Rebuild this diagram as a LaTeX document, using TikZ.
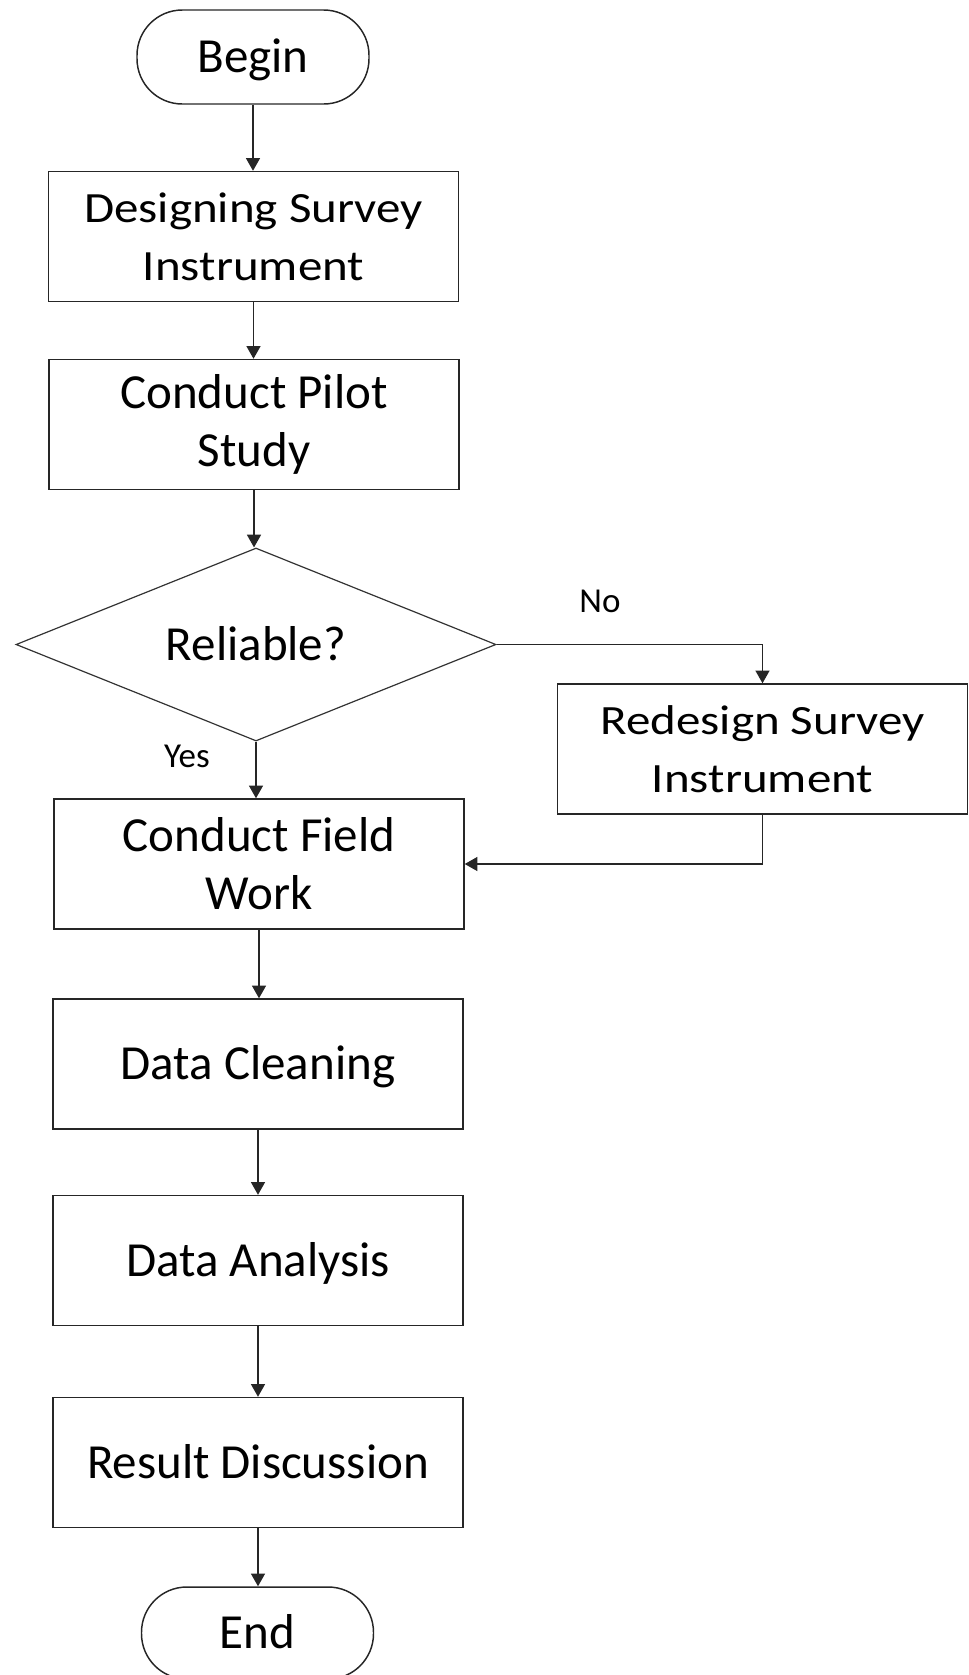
\documentclass[tikz,border=0pt]{standalone}
\usepackage{fontspec}
\setmainfont{Carlito}
\usetikzlibrary{shapes.geometric,arrows.meta}
\begin{document}
\begin{tikzpicture}[x=0.75pt,y=-0.75pt,
  every node/.style={font=\fontsize{36.75pt}{43.5pt}\selectfont,text=black},
  one/.style={text height=33pt,text depth=9.4pt},
  box/.style={draw=black!85,line width=1.1pt,inner sep=0pt,align=center,minimum width=307.5pt,minimum height=97.5pt},
  term/.style={draw=black!85,line width=1.1pt,inner sep=0pt,rounded corners=34pt,minimum width=174pt,minimum height=70.5pt,one},
  decision/.style={draw=black!80,line width=0.9pt,diamond,shape aspect=2.49,inner sep=0pt,minimum width=360pt,minimum height=144.75pt,one},
  lbl/.style={font=\fontsize{26.25pt}{30pt}\selectfont,inner sep=0pt},
  conn/.style={draw=black!85,line width=1pt,-{Triangle[length=9.5pt,width=10.5pt]}}]
\useasboundingbox (0,0) rectangle (969,1675);
\node[term] (begin) at (253,57) {Begin};
\node[box] (des) at (253.5,236.5) {\scalebox{1}[0.88]{Designing Survey}\\\scalebox{1}[0.88]{Instrument}};
\node[box] (pilot) at (254,424.5) {Conduct Pilot\\Study};
\node[decision] (rel) at (256,644.5) {Reliable?};
\node[box] (red) at (762.5,749) {\scalebox{1}[0.85]{Redesign Survey}\\\scalebox{1}[0.85]{Instrument}};
\node[box] (field) at (259,864) {Conduct Field\\Work};
\node[box,one] (clean) at (258,1064) {Data Cleaning};
\node[box,one] (anal) at (258,1260.5) {Data Analysis};
\node[box,one] (res) at (258,1462.5) {Result Discussion};
\node[term,minimum height=69pt,rounded corners=34pt] (end) at (257.5,1633) {End};
\node[lbl] (no) at (600,601) {No};
\node[lbl] (yes) at (187,756) {Yes};
\draw[conn] (begin.south) -- (begin.south |- des.north);
\draw[conn] (des.south) -- (des.south |- pilot.north);
\draw[conn] (pilot.south) -- (pilot.south |- rel.north);
\draw[conn] (rel.east) -| (red.north);
\draw[conn] (rel.south) -- (rel.south |- field.north);
\draw[conn] (red.south) |- (field.east);
\draw[conn] (field.south) -- (field.south |- clean.north);
\draw[conn] (clean.south) -- (clean.south |- anal.north);
\draw[conn] (anal.south) -- (anal.south |- res.north);
\draw[conn] (res.south) -- (res.south |- end.north);
\end{tikzpicture}
\end{document}
